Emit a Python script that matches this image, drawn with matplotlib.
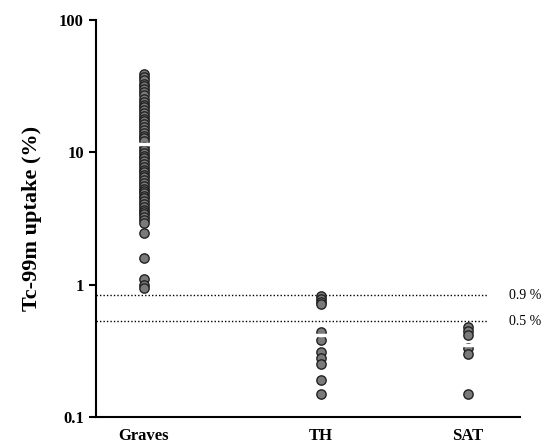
import numpy as np
import matplotlib.pyplot as plt
from matplotlib.ticker import FixedLocator, NullLocator

plt.rcParams['font.family'] = ['Liberation Serif', 'DejaVu Serif']

groups = ["Graves", "TH", "SAT"]

graves = [39, 37, 35, 33, 31.5, 30, 28.5, 27, 25.5, 24, 23, 22, 21, 20, 19,
          18, 17.2, 16.4, 15.6, 14.8, 14.1, 13.4, 12.8, 12.2, 10.9, 10.4,
          9.9, 9.4, 9.0, 8.6, 8.2, 7.8, 7.4, 7.1, 6.8, 6.5, 6.2, 5.9, 5.6,
          5.3, 5.1, 4.9, 4.7, 4.5, 4.3, 4.1, 3.9, 3.7, 3.55, 3.4, 3.25, 3.1,
          2.95, 2.45, 1.6, 1.1, 1.0, 0.95]
th = [0.82, 0.78, 0.74, 0.71, 0.44, 0.38, 0.31, 0.28, 0.25, 0.19, 0.15]
sat = [0.48, 0.45, 0.42, 0.33, 0.30, 0.15]
means = [11.5, 0.42, 0.35]

cutoffs = [0.83, 0.53]
cutoff_labels = ["0.9 %", "0.5 %"]

x_pos = [0.113, 0.531, 0.877]

fig = plt.figure(figsize=(5.44, 4.47), dpi=100)
ax = fig.add_axes([0.176, 0.067, 0.78, 0.888])
ax.set_yscale('log')
ax.set_ylim(0.1, 100)
ax.set_xlim(0, 1)

for x, vals in zip(x_pos, [graves, th, sat]):
    ax.scatter([x] * len(vals), vals, s=45, c='#7a7a7a', edgecolors='#222222',
               linewidths=1.0, zorder=3)

for x, m in zip(x_pos, means):
    ax.plot([x - 0.025, x + 0.025], [m, m], color='white', lw=2.5, zorder=4)

for c, lab in zip(cutoffs, cutoff_labels):
    ax.plot([0.0, 0.922], [c, c], color='black', ls=(0, (1, 1.5)), lw=1.0, zorder=2)
    ax.text(0.975, c, lab, fontsize=10, va='center', ha='left')

ax.spines['top'].set_visible(False)
ax.spines['right'].set_visible(False)
ax.spines['left'].set_linewidth(1.5)
ax.spines['bottom'].set_linewidth(1.5)

ax.yaxis.set_major_locator(FixedLocator([0.1, 1, 10, 100]))
ax.yaxis.set_minor_locator(NullLocator())
ax.set_yticklabels(["0.1", "1", "10", "100"], fontsize=12, fontweight='bold')
ax.tick_params(axis='y', direction='out', length=5, width=1.5)

ax.set_xticks(x_pos)
ax.set_xticklabels(groups, fontsize=12, fontweight='bold')
ax.tick_params(axis='x', length=0, pad=8)

ax.set_ylabel("Tc-99m uptake (%)", fontsize=16, fontweight='bold', labelpad=12)

fig.savefig("out.png", dpi=100)
